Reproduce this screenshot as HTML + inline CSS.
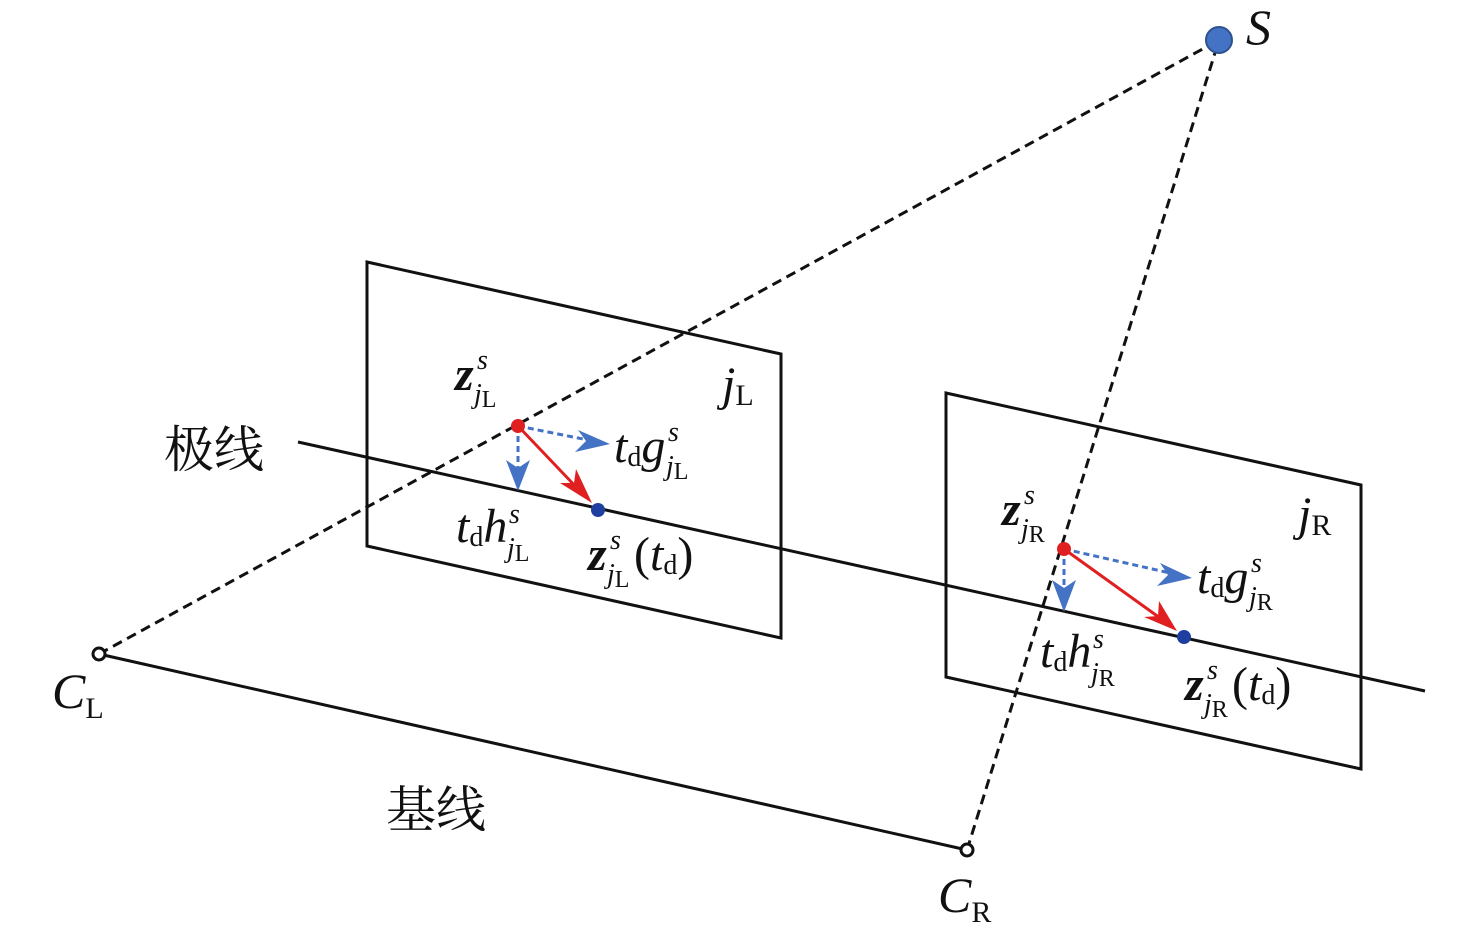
<!DOCTYPE html>
<html><head><meta charset="utf-8"><style>
html,body{margin:0;padding:0;background:#fff;}
svg{display:block;}
text{font-family:"Liberation Serif","Noto Serif CJK SC",serif;fill:#111;}
.cn{font-family:"Liberation Serif","Noto Serif CJK SC","Noto Sans CJK SC",serif;}
</style></head><body>
<svg width="1476" height="937" viewBox="0 0 1476 937" xmlns="http://www.w3.org/2000/svg">
<g stroke="#111" stroke-width="3" fill="none">
<line x1="99" y1="654" x2="1219" y2="40" stroke-dasharray="10,6"/>
<line x1="967" y1="850" x2="1219" y2="40" stroke-dasharray="10,6"/>
<line x1="99" y1="654" x2="967" y2="850"/>
<line x1="298" y1="442" x2="1425" y2="691"/>
<polygon points="367,262 781,354 781,638 367,546"/>
<polygon points="946,393 1361,485 1361,769 946,677"/>
</g>
<circle cx="99" cy="654" r="6" fill="#fff" stroke="#111" stroke-width="3"/>
<circle cx="967" cy="850" r="6" fill="#fff" stroke="#111" stroke-width="3"/>
<circle cx="1219" cy="40" r="13" fill="#4472c4" stroke="#2f528f" stroke-width="2"/>

<g stroke="#4472c4" stroke-width="3" stroke-dasharray="6,4">
<line x1="518" y1="426" x2="518" y2="470"/>
<line x1="518" y1="426" x2="588" y2="440"/>
</g>
<polygon points="518,491 506,460 518,468 530,460" fill="#4472c4"/>
<polygon points="610,444 578,430 586,441 575,452" fill="#4472c4"/>
<line x1="518" y1="426" x2="578" y2="489" stroke="#e02020" stroke-width="3"/>
<polygon points="592,503 560,483 574,483 576,469" fill="#e02020"/>
<circle cx="518" cy="426" r="7" fill="#e02020"/>
<circle cx="598" cy="510" r="7" fill="#1f3fa0"/>

<g stroke="#4472c4" stroke-width="3" stroke-dasharray="6,4">
<line x1="1064" y1="549" x2="1064" y2="590"/>
<line x1="1064" y1="549" x2="1170" y2="573"/>
</g>
<polygon points="1064,612 1052,580 1064,588 1076,580" fill="#4472c4"/>
<polygon points="1192,578 1160,563 1168,575 1157,586" fill="#4472c4"/>
<line x1="1064" y1="549" x2="1160" y2="618" stroke="#e02020" stroke-width="3"/>
<polygon points="1177,631 1144,617 1158,616 1159,601" fill="#e02020"/>
<circle cx="1064" cy="549" r="7" fill="#e02020"/>
<circle cx="1184" cy="637" r="7" fill="#1f3fa0"/>

<text x="1246" y="44" font-size="50" font-style="italic">S</text>
<text x="52" y="708" font-size="50" font-style="italic">C<tspan font-size="30" font-style="normal" dy="10">L</tspan></text>
<text x="938" y="912" font-size="50" font-style="italic">C<tspan font-size="30" font-style="normal" dy="10">R</tspan></text>
<text class="cn" x="164" y="467" font-size="50">极线</text>
<text class="cn" x="386" y="827" font-size="50">基线</text>

<text x="722" y="400" font-size="48" font-style="italic">j<tspan font-size="30" font-style="normal" dy="5">L</tspan></text>
<text x="1298" y="530" font-size="48" font-style="italic">j<tspan font-size="30" font-style="normal" dy="5">R</tspan></text>

<text x="455" y="390" font-size="48" font-style="italic" font-weight="bold">z</text>
<text x="477" y="369" font-size="28" font-style="italic">s</text>
<text x="474" y="403" font-size="28" font-style="italic">j<tspan font-style="normal" font-size="24" dy="4">L</tspan></text>

<text x="614" y="462" font-size="48" font-style="italic">t<tspan font-size="28" font-style="normal" dy="4">d</tspan><tspan dy="-4">g</tspan></text>
<text x="668" y="441" font-size="28" font-style="italic">s</text>
<text x="666" y="475" font-size="28" font-style="italic">j<tspan font-style="normal" font-size="24" dy="4">L</tspan></text>

<text x="456" y="542" font-size="48" font-style="italic">t<tspan font-size="28" font-style="normal" dy="4">d</tspan><tspan dy="-4">h</tspan></text>
<text x="509" y="523" font-size="28" font-style="italic">s</text>
<text x="507" y="557" font-size="28" font-style="italic">j<tspan font-style="normal" font-size="24" dy="4">L</tspan></text>

<text x="588" y="570" font-size="48" font-style="italic" font-weight="bold">z</text>
<text x="610" y="549" font-size="28" font-style="italic">s</text>
<text x="607" y="583" font-size="28" font-style="italic">j<tspan font-style="normal" font-size="24" dy="4">L</tspan></text>
<text x="634" y="570" font-size="48">(<tspan font-style="italic">t</tspan><tspan font-size="28" dy="4">d</tspan><tspan dy="-4">)</tspan></text>

<text x="1002" y="525" font-size="48" font-style="italic" font-weight="bold">z</text>
<text x="1024" y="504" font-size="28" font-style="italic">s</text>
<text x="1021" y="538" font-size="28" font-style="italic">j<tspan font-style="normal" font-size="24" dy="4">R</tspan></text>

<text x="1197" y="593" font-size="48" font-style="italic">t<tspan font-size="28" font-style="normal" dy="4">d</tspan><tspan dy="-4">g</tspan></text>
<text x="1251" y="572" font-size="28" font-style="italic">s</text>
<text x="1249" y="606" font-size="28" font-style="italic">j<tspan font-style="normal" font-size="24" dy="4">R</tspan></text>

<text x="1040" y="667" font-size="48" font-style="italic">t<tspan font-size="28" font-style="normal" dy="4">d</tspan><tspan dy="-4">h</tspan></text>
<text x="1093" y="648" font-size="28" font-style="italic">s</text>
<text x="1091" y="682" font-size="28" font-style="italic">j<tspan font-style="normal" font-size="24" dy="4">R</tspan></text>

<text x="1185" y="700" font-size="48" font-style="italic" font-weight="bold">z</text>
<text x="1207" y="679" font-size="28" font-style="italic">s</text>
<text x="1204" y="713" font-size="28" font-style="italic">j<tspan font-style="normal" font-size="24" dy="4">R</tspan></text>
<text x="1232" y="700" font-size="48">(<tspan font-style="italic">t</tspan><tspan font-size="28" dy="4">d</tspan><tspan dy="-4">)</tspan></text>
</svg>
</body></html>
